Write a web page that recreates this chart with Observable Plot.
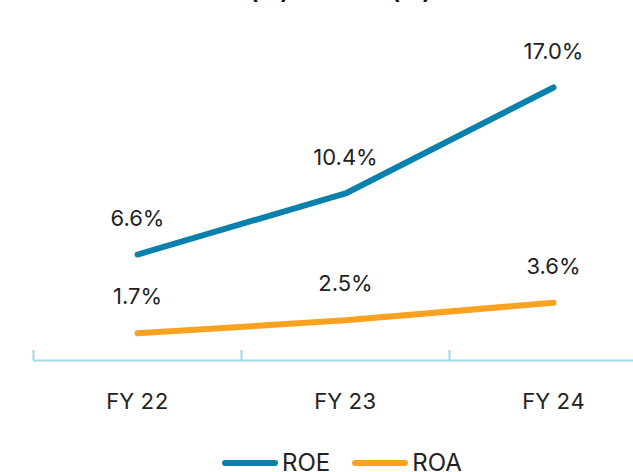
<!DOCTYPE html>
<html>
<head>
<meta charset="utf-8">
<script src="https://cdn.jsdelivr.net/npm/d3@7"></script>
<script src="https://cdn.jsdelivr.net/npm/@observablehq/plot@0.6"></script>
<style>
  html, body { margin: 0; padding: 0; background: #fff; overflow: hidden; }
  body { width: 633px; height: 472px; position: relative; font-family: Inter, "Noto Sans", sans-serif; }
  #title { position: absolute; left: 200px; top: -19px; font-size: 22px; font-weight: 700; line-height: 1; color: #111; white-space: nowrap; }
  #legend { position: absolute; left: 222px; top: 451px; display: flex; align-items: center; font-size: 24px; line-height: 24px; color: #222; white-space: nowrap; }
  .sw { display: inline-block; width: 56px; height: 6px; border-radius: 3px; margin-right: 4px; }
  .item { display: flex; align-items: center; margin-right: 22px; }
</style>
</head>
<body>
<div id="title">ROE (%) and ROA (%)</div>
<div id="chart"></div>
<div id="legend"></div>
<script>
const categories = ["FY 22", "FY 23", "FY 24"];
const seriesNames = ["ROE", "ROA"];
const roe = [6.6, 10.4, 17.0];
const roa = [1.7, 2.5, 3.6];
const colors = ["#0a80ad", "#f8a21f"];

const data = [];
categories.forEach((c, i) => {
  data.push({i, cat: c, series: "ROE", value: roe[i]});
  data.push({i, cat: c, series: "ROA", value: roa[i]});
});
const boundaries = categories.map((c, i) => i - 0.5);

const plot = Plot.plot({
  width: 633,
  height: 440,
  marginLeft: 33,
  marginRight: 0,
  marginTop: 20,
  marginBottom: 80,
  style: {fontFamily: "Inter, 'Noto Sans', sans-serif", overflow: "visible"},
  x: {domain: [-0.5, categories.length - 0.5], range: [33, 657]},
  y: {domain: [0, 17], range: [360, 87], axis: null},
  color: {domain: seriesNames, range: colors},
  marks: [
    Plot.ruleY([0], {stroke: "#a3d6ee", strokeWidth: 2}),
    Plot.ruleX(boundaries, {y1: 0, y2: 0.62, stroke: "#a3d6ee", strokeWidth: 2}),
    Plot.axisX({ticks: categories.map((c, i) => i), tickFormat: i => categories[i], tickSize: 0, tickPadding: 33, fontSize: 22, fill: "#222", label: null}),
    Plot.line(data, {x: "i", y: "value", z: "series", stroke: "series", strokeWidth: 6, strokeLinecap: "round", strokeLinejoin: "round"}),
    Plot.text(data, {x: "i", y: "value", text: d => d.value.toFixed(1) + "%", dy: -36, fontSize: 22, fill: "#222"})
  ]
});
document.getElementById("chart").appendChild(plot);

const legend = document.getElementById("legend");
seriesNames.forEach((s, k) => {
  const it = document.createElement("span");
  it.className = "item";
  it.innerHTML = `<span class="sw" style="background:${colors[k]}"></span><span>${s}</span>`;
  legend.appendChild(it);
});
</script>
</body>
</html>
